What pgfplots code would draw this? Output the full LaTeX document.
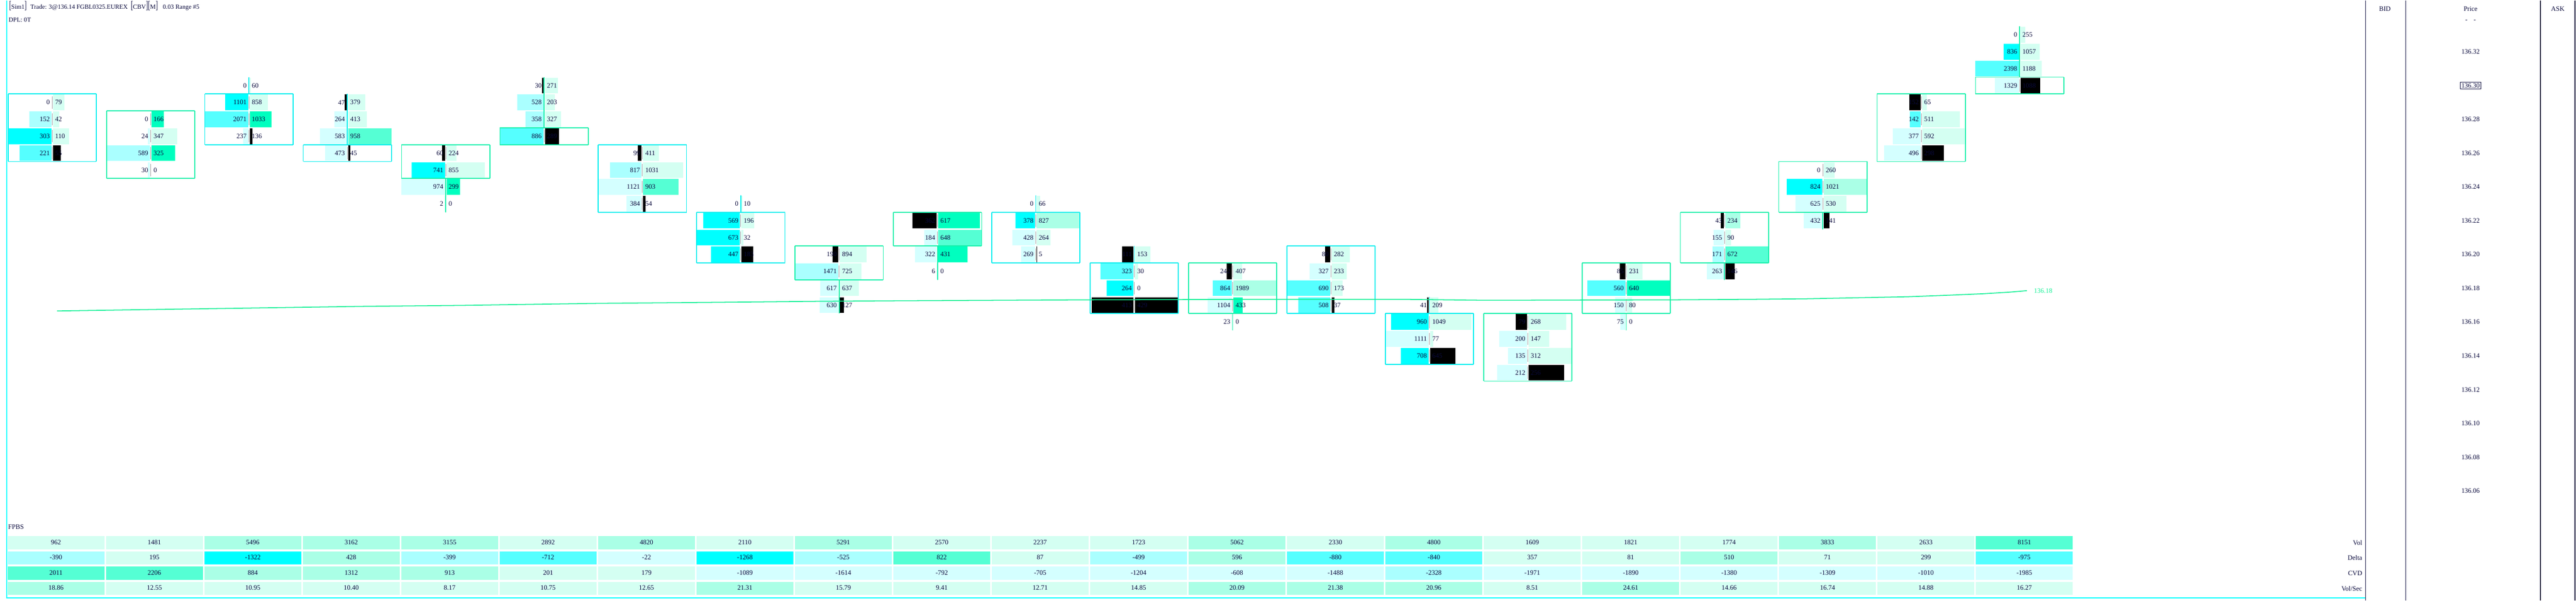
\documentclass[border=0pt]{standalone}
\usepackage{pgfplots}
\pgfplotsset{compat=1.18}
\usepackage{pgfplotstable}
\usepackage{graphicx}
\usepackage{fontspec}
\setmainfont{Liberation Serif}

% cell colours: 1-4 bid shades, 5 black, 6-9 ask shades
\definecolor{fp1}{HTML}{00FFFF}
\definecolor{fp2}{HTML}{55FFFF}
\definecolor{fp3}{HTML}{AAFFFF}
\definecolor{fp4}{HTML}{D4FFFF}
\definecolor{fp5}{HTML}{000000}
\definecolor{fp6}{HTML}{00FFBF}
\definecolor{fp7}{HTML}{55FFD4}
\definecolor{fp8}{HTML}{AAFFE6}
\definecolor{fp9}{HTML}{D4FFF2}
\definecolor{bx1}{HTML}{00EEEE}
\definecolor{bx2}{HTML}{14F0AA}
\definecolor{ink}{HTML}{0A0A3C}
\definecolor{vwap}{HTML}{14F096}
\definecolor{sepgray}{HTML}{A0A0A0}

\newcommand{\fnum}{\fontsize{3.3}{4}\selectfont}
\newcommand{\ftitle}{\fontsize{3.1}{4}\selectfont}
% column centre, price row, stats cell left edge (all in pixels)
\newcommand{\cx}{(90.6+194*(\thisrow{k}-1))}
\newcommand{\py}[1]{(101+(136.32-\thisrow{#1})*3330)}
\newcommand{\tx}{(2.5+194.1*(\thisrow{k}-1))}

\pgfplotsset{
  nomark/.style={draw=none, mark=none},
  hbar/.style 2 args={nomark,
    error bars/x dir=plus, error bars/x explicit, error bars/error mark=none,
    error bars/error bar style={line width=#1, draw=#2}},
  fpnum/.style={nomark, point meta=explicit symbolic,
    nodes near coords={\pgfplotspointmeta},
    every node near coord/.append style={font=\fnum, text=ink, inner sep=0pt, #1}},
}

% footprint: column, price, bid, ask, bid colour, ask colour, column max
\pgfplotstableread{
k p bid ask bc ac mx
1 136.29 0 79 0 9 303
1 136.28 152 42 3 9 303
1 136.27 303 110 1 9 303
1 136.26 221 55 2 5 303
2 136.28 0 166 0 6 589
2 136.27 24 347 4 9 589
2 136.26 589 325 3 6 589
2 136.25 30 0 4 0 589
3 136.30 0 60 0 9 2071
3 136.29 1101 858 1 9 2071
3 136.28 2071 1033 2 6 2071
3 136.27 237 136 4 5 2071
4 136.29 47 379 5 9 958
4 136.28 264 413 4 9 958
4 136.27 583 958 4 7 958
4 136.26 473 45 4 5 958
5 136.26 60 224 5 9 974
5 136.25 741 855 1 9 974
5 136.24 974 299 4 6 974
5 136.23 2 0 4 0 974
6 136.30 30 271 5 9 886
6 136.29 528 203 3 9 886
6 136.28 358 327 3 9 886
6 136.27 886 289 2 5 886
7 136.26 99 411 5 9 1121
7 136.25 817 1031 3 9 1121
7 136.24 1121 903 4 7 1121
7 136.23 384 54 4 5 1121
8 136.23 0 10 0 9 673
8 136.22 569 196 1 9 673
8 136.21 673 32 1 9 673
8 136.20 447 183 1 5 673
9 136.20 190 894 5 9 1471
9 136.19 1471 725 3 9 1471
9 136.18 617 637 4 9 1471
9 136.17 630 127 4 5 1471
10 136.22 362 617 5 6 648
10 136.21 184 648 4 7 648
10 136.20 322 431 4 6 648
10 136.19 6 0 4 0 648
11 136.23 0 66 0 9 827
11 136.22 378 827 1 8 827
11 136.21 428 264 4 9 827
11 136.20 269 5 4 5 827
12 136.20 111 153 5 9 429
12 136.19 323 30 2 9 429
12 136.18 264 0 1 0 429
12 136.17 413 429 5 5 429
13 136.19 242 407 5 9 1989
13 136.18 864 1989 2 8 1989
13 136.17 1104 433 4 6 1989
13 136.16 23 0 4 0 1989
14 136.20 80 282 5 9 690
14 136.19 327 233 4 9 690
14 136.18 690 173 2 9 690
14 136.17 508 37 2 5 690
15 136.17 41 209 5 9 1111
15 136.16 960 1049 1 9 1111
15 136.15 1111 77 4 9 1111
15 136.14 708 645 1 5 1111
16 136.16 79 268 5 9 312
16 136.15 200 147 4 9 312
16 136.14 135 312 4 9 312
16 136.13 212 256 4 5 312
17 136.19 85 231 5 9 640
17 136.18 560 640 2 6 640
17 136.17 150 80 4 9 640
17 136.16 75 0 4 0 640
18 136.22 43 234 5 8 672
18 136.21 155 90 4 9 672
18 136.20 171 672 3 7 672
18 136.19 263 146 4 5 672
19 136.25 0 260 0 9 1021
19 136.24 824 1021 1 8 1021
19 136.23 625 530 4 9 1021
19 136.22 432 141 4 5 1021
20 136.29 152 65 5 9 592
20 136.28 142 511 2 9 592
20 136.27 377 592 4 9 592
20 136.26 496 298 4 5 592
21 136.33 0 255 0 9 2398
21 136.32 836 1057 1 9 2398
21 136.31 2398 1188 2 9 2398
21 136.30 1329 1088 4 5 2398
}\cells

% bars: high, low, body top, body bottom, 1 down / 2 up
\pgfplotstableread{
k hi lo bt bb d
1 136.29 136.26 136.29 136.26 1
2 136.28 136.25 136.28 136.25 2
3 136.30 136.27 136.29 136.27 1
4 136.29 136.26 136.26 136.26 1
5 136.26 136.23 136.26 136.25 2
6 136.30 136.27 136.27 136.27 2
7 136.26 136.23 136.26 136.23 1
8 136.23 136.20 136.22 136.20 1
9 136.20 136.17 136.20 136.19 2
10 136.22 136.19 136.22 136.21 2
11 136.23 136.20 136.22 136.20 1
12 136.20 136.17 136.19 136.17 1
13 136.19 136.16 136.19 136.17 2
14 136.20 136.17 136.20 136.17 1
15 136.17 136.14 136.16 136.14 1
16 136.16 136.13 136.16 136.13 2
17 136.19 136.16 136.19 136.17 2
18 136.22 136.19 136.22 136.20 2
19 136.25 136.22 136.25 136.23 2
20 136.29 136.26 136.29 136.26 2
21 136.33 136.30 136.30 136.30 2
}\candles

\pgfplotstableread{
k vol vc dlt dc cvd cc vps sc
1 962 9 -390 3 2011 7 18.86 8
2 1481 9 195 9 2206 7 12.55 9
3 5496 8 -1322 1 884 8 10.95 9
4 3162 8 428 8 1312 8 10.40 9
5 3155 8 -399 3 913 8 8.17 9
6 2892 9 -712 2 201 9 10.75 9
7 4820 8 -22 4 179 9 12.65 9
8 2110 9 -1268 1 -1089 4 21.31 8
9 5291 8 -525 3 -1614 4 15.79 9
10 2570 9 822 7 -792 4 9.41 9
11 2237 9 87 9 -705 4 12.71 9
12 1723 9 -499 3 -1204 4 14.85 9
13 5062 8 596 8 -608 4 20.09 8
14 2330 9 -880 2 -1488 4 21.38 8
15 4800 8 -840 2 -2328 3 20.96 8
16 1609 9 357 9 -1971 4 8.51 9
17 1821 9 81 9 -1890 4 24.61 8
18 1774 9 510 8 -1380 4 14.66 9
19 3833 8 71 9 -1309 4 16.74 9
20 2633 9 299 9 -1010 4 14.88 9
21 8151 7 -975 2 -1985 4 16.27 9
}\stats

\pgfplotstableread{
p b
136.32 1
136.30 2
136.28 1
136.26 1
136.24 1
136.22 1
136.20 1
136.18 1
136.16 1
136.14 1
136.12 1
136.10 1
136.08 1
136.06 1
}\ladder

\begin{document}
\begin{tikzpicture}
\begin{axis}[
  scale only axis, width=1267pt, height=295.75pt,
  xmin=0, xmax=5068, ymin=0, ymax=1183, y dir=reverse,
  hide axis, clip=false,
]
\addplot[nomark] coordinates {(0,0) (5068,1183)};

% bid and ask bars
\pgfplotsinvokeforeach{1,...,5}{
  \addplot[restrict expr to domain={\thisrow{bc}}{#1:#1}, hbar={7.75pt}{fp#1}]
    table[x expr={\cx-1.5-\thisrow{bid}/\thisrow{mx}*86}, y expr={\py{p}},
          x error expr={\thisrow{bid}/\thisrow{mx}*86}] {\cells};
}
\pgfplotsinvokeforeach{5,...,9}{
  \addplot[restrict expr to domain={\thisrow{ac}}{#1:#1}, hbar={7.75pt}{fp#1}]
    table[x expr={\cx+1.5}, y expr={\py{p}},
          x error expr={\thisrow{ask}/\thisrow{mx}*86}] {\cells};
}

% separators
\addplot[nomark, error bars/y dir=both, error bars/y fixed=12,
  error bars/error mark=none, error bars/error bar style={line width=0.25pt, draw=sepgray}]
  table[x expr={\cx}, y expr={\py{p}}] {\cells};

% wicks and bodies
\pgfplotsinvokeforeach{1,2}{
  \addplot[restrict expr to domain={\thisrow{d}}{#1:#1}, nomark,
    error bars/y dir=plus, error bars/y explicit, error bars/error mark=none,
    error bars/error bar style={line width=0.4pt, draw=bx#1}]
    table[x expr={\cx}, y expr={\py{hi}-16.65},
          y error expr={(\thisrow{hi}-\thisrow{bt})*3330}] {\candles};
  \addplot[restrict expr to domain={\thisrow{d}}{#1:#1}, nomark,
    error bars/y dir=plus, error bars/y explicit, error bars/error mark=none,
    error bars/error bar style={line width=0.4pt, draw=bx#1}]
    table[x expr={\cx}, y expr={\py{bb}+16.65},
          y error expr={(\thisrow{bb}-\thisrow{lo})*3330}] {\candles};
  \addplot[restrict expr to domain={\thisrow{d}}{#1:#1}, nomark,
    error bars/x dir=plus, error bars/x explicit, error bars/y dir=plus, error bars/y explicit,
    error bars/error mark=none, error bars/error bar style={line width=0.45pt, draw=bx#1}]
    table[x expr={\cx-87}, y expr={\py{bt}-16.65}, x error expr=174,
          y error expr={(\thisrow{bt}-\thisrow{bb})*3330+33.3}] {\candles};
  \addplot[restrict expr to domain={\thisrow{d}}{#1:#1}, nomark,
    error bars/x dir=minus, error bars/x explicit, error bars/y dir=minus, error bars/y explicit,
    error bars/error mark=none, error bars/error bar style={line width=0.45pt, draw=bx#1}]
    table[x expr={\cx+87}, y expr={\py{bb}+16.65}, x error expr=174,
          y error expr={(\thisrow{bt}-\thisrow{bb})*3330+33.3}] {\candles};
}

% footprint numbers
\addplot[fpnum={anchor=east}] table[x expr={\cx-4}, y expr={\py{p}}, meta=bid] {\cells};
\addplot[fpnum={anchor=west}] table[x expr={\cx+5}, y expr={\py{p}}, meta=ask] {\cells};

% vwap line
\addplot[vwap, line width=0.45pt, mark=none] coordinates {
  (100,612) (300,609) (500,606) (700,603) (900,601) (1100,598) (1170,597)
  (1400,595) (1600,593) (1755,592) (2140,590) (2500,589) (2750,589) (2920,591)
  (3300,590) (3450,589) (3550,588) (3650,586) (3750,584) (3830,581) (3900,578)
  (3950,575) (3985,572)};
\node[anchor=west, font=\fnum, text=vwap, inner sep=0pt] at (axis cs:3998,572) {136.18};

% stats rows
\pgfplotsinvokeforeach{1,...,9}{
  \addplot[restrict expr to domain={\thisrow{vc}}{#1:#1}, hbar={6.5pt}{fp#1}]
    table[x expr={\tx}, y expr=1069, x error expr=191] {\stats};
  \addplot[restrict expr to domain={\thisrow{dc}}{#1:#1}, hbar={6.5pt}{fp#1}]
    table[x expr={\tx}, y expr=1099, x error expr=191] {\stats};
  \addplot[restrict expr to domain={\thisrow{cc}}{#1:#1}, hbar={6.5pt}{fp#1}]
    table[x expr={\tx}, y expr=1129, x error expr=191] {\stats};
  \addplot[restrict expr to domain={\thisrow{sc}}{#1:#1}, hbar={6.5pt}{fp#1}]
    table[x expr={\tx}, y expr=1159, x error expr=191] {\stats};
}
\addplot[fpnum={anchor=center}] table[x expr={\tx+95.5}, y expr=1068, meta=vol] {\stats};
\addplot[fpnum={anchor=center}] table[x expr={\tx+95.5}, y expr=1098, meta=dlt] {\stats};
\addplot[fpnum={anchor=center}] table[x expr={\tx+95.5}, y expr=1128, meta=cvd] {\stats};
\addplot[fpnum={anchor=center}] table[x expr={\tx+95.5}, y expr=1158, meta=vps] {\stats};

% price ladder
\addplot[restrict expr to domain={\thisrow{b}}{1:1}, fpnum={anchor=center}]
  table[x expr=4860, y expr={\py{p}}, meta=p] {\ladder};
\addplot[restrict expr to domain={\thisrow{b}}{2:2},
  fpnum={anchor=center, draw=ink, line width=0.3pt, inner sep=0.6pt}]
  table[x expr=4860, y expr={\py{p}}, meta=p] {\ladder};

% frame
\addplot[fp1, line width=0.5pt, mark=none] coordinates {(1,0) (1,1178) (4653,1178)};
\addplot[ink, line width=0.35pt, mark=none, unbounded coords=jump] coordinates {
  (4653,0) (4653,1183) (nan,nan) (4732,0) (4732,1183) (nan,nan)
  (4998,0) (4998,1183) (nan,nan) (5066,0) (5066,1183)};

% texts
\node[anchor=base west, font=\ftitle, text=ink, inner sep=0pt] at (axis cs:5,17)
  {\scalebox{1}[1.8]{[}Sim1\scalebox{1}[1.8]{]}};
\node[anchor=base west, font=\ftitle, text=ink, inner sep=0pt] at (axis cs:47,17)
  {Trade: 3@136.14 FGBL0325.EUREX};
\node[anchor=base west, font=\ftitle, text=ink, inner sep=0pt] at (axis cs:245,17)
  {\scalebox{1}[1.8]{[}CBV\scalebox{1}[1.8]{]}\scalebox{1}[1.8]{[}M\scalebox{1}[1.8]{]}};
\node[anchor=base west, font=\ftitle, text=ink, inner sep=0pt] at (axis cs:308,17)
  {0.03 Range \#5};
\node[anchor=base west, font=\ftitle, text=ink, inner sep=0pt] at (axis cs:4,42) {DPL: 0T};
\node[anchor=base west, font=\fnum, text=ink, inner sep=0pt] at (axis cs:3,1042) {FPBS};
\node[anchor=east, font=\fnum, text=ink, inner sep=0pt] at (axis cs:4647,1069) {Vol};
\node[anchor=east, font=\fnum, text=ink, inner sep=0pt] at (axis cs:4647,1099) {Delta};
\node[anchor=east, font=\fnum, text=ink, inner sep=0pt] at (axis cs:4647,1129) {CVD};
\node[anchor=east, font=\fnum, text=ink, inner sep=0pt] at (axis cs:4647,1159) {Vol/Sec};
\node[font=\fnum, text=ink, inner sep=0pt] at (axis cs:4691,17) {BID};
\node[font=\fnum, text=ink, inner sep=0pt] at (axis cs:4860,17) {Price};
\node[font=\fnum, text=ink, inner sep=0pt] at (axis cs:5032,17) {ASK};
\node[font=\fnum, text=ink, inner sep=0pt] at (axis cs:4860,40) {-\hspace{3pt}-};
\end{axis}
\end{tikzpicture}
\end{document}
